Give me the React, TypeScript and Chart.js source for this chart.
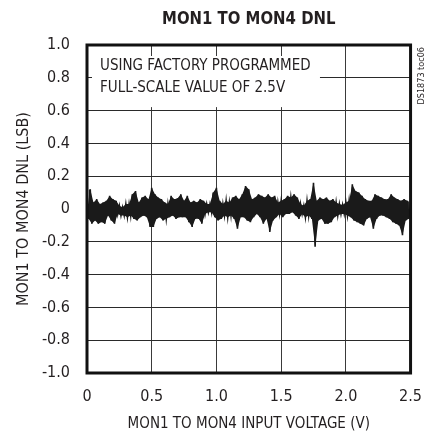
import React, { useEffect, useRef } from "react";
import { Chart, registerables } from "chart.js";

Chart.register(...registerables);

const TITLE = "MON1 TO MON4 DNL";
const X_TITLE = "MON1 TO MON4 INPUT VOLTAGE (V)";
const Y_TITLE = "MON1 TO MON4 DNL (LSB)";
const NOTE_LINES = ["USING FACTORY PROGRAMMED", "FULL-SCALE VALUE OF 2.5V"];
const TAG = "DS1873 toc06";

const X_MIN = 0;
const X_MAX = 2.5;
const X_STEP = 0.5;
const Y_MIN = -1.0;
const Y_MAX = 1.0;
const Y_STEP = 0.2;

// input voltage spacing between successive envelope samples (V)
const SAMPLE_STEP = 0.025;

// upper and lower excursions of the DNL trace, read per sample
const DNL_HIGH = [
  0.11, 0.12, 0.04, 0.06, 0.03, 0.04, 0.05, 0.08, 0.06, 0.05,
  0.02, 0.01, 0.03, 0.03, 0.09, 0.11, 0.04, 0.07, 0.08, 0.06,
  0.13, 0.09, 0.07, 0.06, 0.04, 0.03, 0.08, 0.06, 0.065, 0.09,
  0.05, 0.08, 0.04, 0.05, 0.04, 0.06, 0.05, 0.03, 0.03, 0.1,
  0.13, 0.05, 0.03, 0.05, 0.04, 0.07, 0.08, 0.06, 0.09, 0.14,
  0.12, 0.06, 0.07, 0.09, 0.08, 0.07, 0.09, 0.07, 0.08, 0.04,
  0.05, 0.06, 0.08, 0.07, 0.09, 0.07, 0.03, 0.02, 0.05, 0.06,
  0.16, 0.05, 0.07, 0.06, 0.07, 0.05, 0.06, 0.04, 0.03, 0.025,
  0.04, 0.05, 0.15, 0.11, 0.1, 0.08, 0.06, 0.05, 0.05, 0.09,
  0.08, 0.07, 0.06, 0.06, 0.09, 0.07, 0.06, 0.05, 0.06, 0.05,
  0.04,
];
const DNL_LOW = [
  -0.06, -0.09, -0.07, -0.09, -0.08, -0.09, -0.04, -0.07, -0.09, -0.03,
  -0.04, -0.04, -0.05, -0.04, -0.06, -0.07, -0.05, -0.04, -0.05, -0.11,
  -0.11, -0.06, -0.05, -0.07, -0.06, -0.05, -0.04, -0.06, -0.05, -0.05,
  -0.05, -0.08, -0.11, -0.06, -0.06, -0.09, -0.03, -0.02, -0.02, -0.05,
  -0.07, -0.06, -0.04, -0.05, -0.04, -0.06, -0.12, -0.05, -0.05, -0.07,
  -0.08, -0.05, -0.03, -0.05, -0.09, -0.06, -0.14, -0.07, -0.05, -0.03,
  -0.05, -0.03, -0.03, -0.02, -0.04, -0.06, -0.03, -0.05, -0.04, -0.06,
  -0.23, -0.07, -0.06, -0.09, -0.09, -0.08, -0.05, -0.04, -0.03, -0.03,
  -0.04, -0.05, -0.07, -0.08, -0.09, -0.1, -0.06, -0.05, -0.12, -0.06,
  -0.04, -0.04, -0.05, -0.06, -0.08, -0.09, -0.1, -0.16, -0.07, -0.06,
  -0.05,
];

const FONT = '"Liberation Sans Narrow", "DejaVu Sans Condensed", "Roboto Condensed", "Arial Narrow", sans-serif';
const INK = "#231f20";
const TRACE = "#1a1a1a";

function fmt(v: number): string {
  if (Math.abs(v) < 1e-9) return "0";
  return v.toFixed(1);
}

const decorPlugin = {
  id: "decor",
  beforeDatasetsDraw(chart: any) {
    const { ctx, chartArea, scales } = chart;
    const x = scales.x;
    const y = scales.y;
    ctx.save();
    // white box behind the note
    const bx0 = chartArea.left + 5;
    const bx1 = x.getPixelForValue(1.8);
    const by0 = chartArea.top + 11;
    const by1 = y.getPixelForValue(0.6) - 3.5;
    ctx.fillStyle = "#ffffff";
    ctx.fillRect(bx0, by0, bx1 - bx0, by1 - by0);
    ctx.fillStyle = INK;
    ctx.font = `15px ${FONT}`;
    ctx.textAlign = "left";
    ctx.textBaseline = "middle";
    ctx.fillText(NOTE_LINES[0], chartArea.left + 13, chartArea.top + 21);
    ctx.fillText(NOTE_LINES[1], chartArea.left + 13, chartArea.top + 43);
    ctx.restore();
  },
  afterDraw(chart: any) {
    const { ctx, chartArea } = chart;
    ctx.save();
    ctx.strokeStyle = "#111111";
    ctx.lineWidth = 3;
    ctx.strokeRect(
      chartArea.left,
      chartArea.top,
      chartArea.right - chartArea.left,
      chartArea.bottom - chartArea.top
    );
    ctx.restore();

    // title
    ctx.save();
    ctx.fillStyle = INK;
    ctx.font = `bold 18px ${FONT}`;
    ctx.textAlign = "center";
    ctx.textBaseline = "middle";
    ctx.translate((chartArea.left + chartArea.right) / 2, 19);
    ctx.scale(0.92, 1);
    ctx.fillText(TITLE, 0, 0);
    ctx.restore();

    // side tag
    ctx.save();
    ctx.fillStyle = INK;
    ctx.translate(chartArea.right + 13, chartArea.top + 2);
    ctx.rotate(-Math.PI / 2);
    ctx.font = `9px ${FONT}`;
    ctx.textAlign = "right";
    ctx.textBaseline = "alphabetic";
    ctx.fillText(TAG, 0, 0);
    ctx.restore();
  },
};

export default function App() {
  const ref = useRef<HTMLCanvasElement | null>(null);

  useEffect(() => {
    if (!ref.current) return;
    const highPts = DNL_HIGH.map((v, i) => ({ x: i * SAMPLE_STEP, y: v }));
    const lowPts = DNL_LOW.map((v, i) => ({ x: i * SAMPLE_STEP + SAMPLE_STEP / 2, y: v })).filter(
      (p) => p.x <= X_MAX
    );
    const zigzag: { x: number; y: number }[] = [];
    for (let i = 0; i < highPts.length; i++) {
      zigzag.push(highPts[i]);
      if (i < lowPts.length) zigzag.push(lowPts[i]);
    }
    const chart = new Chart(ref.current, {
      type: "line",
      data: {
        datasets: [
          {
            data: highPts,
            borderWidth: 0,
            borderColor: "rgba(0,0,0,0)",
            pointRadius: 0,
            tension: 0,
            fill: false,
          },
          {
            data: lowPts,
            borderWidth: 0,
            borderColor: "rgba(0,0,0,0)",
            backgroundColor: TRACE,
            pointRadius: 0,
            tension: 0,
            fill: "-1",
          },
          {
            data: zigzag,
            borderColor: TRACE,
            borderWidth: 1.6,
            pointRadius: 0,
            tension: 0,
            fill: false,
          },
        ],
      },
      options: {
        animation: false,
        responsive: false,
        devicePixelRatio: 1,
        layout: { padding: { top: 45, right: 21, bottom: 0, left: 0 } },
        plugins: {
          legend: { display: false },
          tooltip: { enabled: false },
          title: { display: false },
          filler: { propagate: false },
        },
        scales: {
          x: {
            type: "linear",
            min: X_MIN,
            max: X_MAX,
            afterFit: (s: any) => {
              s.height = 60;
            },
            ticks: {
              stepSize: X_STEP,
              color: INK,
              padding: 14,
              font: { family: FONT, size: 16 },
              callback: (v: any) => fmt(Number(v)),
              maxRotation: 0,
            },
            grid: { color: "#3a3a3a", lineWidth: 1, drawTicks: false },
            border: { display: false },
            title: {
              display: true,
              text: X_TITLE,
              color: INK,
              font: { family: FONT, size: 15 },
              padding: { top: 0, bottom: 0 },
            },
          },
          y: {
            type: "linear",
            min: Y_MIN,
            max: Y_MAX,
            afterFit: (s: any) => {
              s.width = 87;
            },
            ticks: {
              stepSize: Y_STEP,
              color: INK,
              padding: 17,
              font: { family: FONT, size: 16 },
              callback: (v: any) => fmt(Number(v)),
            },
            grid: { color: "#2a2a2a", lineWidth: 1, drawTicks: false },
            border: { display: false },
            title: {
              display: true,
              text: Y_TITLE,
              color: INK,
              font: { family: FONT, size: 16 },
              padding: { top: 14, bottom: 0 },
            },
          },
        },
      },
      plugins: [decorPlugin],
    });
    return () => chart.destroy();
  }, []);

  return (
    <div style={{ position: "fixed", left: 0, top: 0, width: 436, height: 433, background: "#fff" }}>
      <canvas ref={ref} width={436} height={433} style={{ display: "block" }} />
    </div>
  );
}
